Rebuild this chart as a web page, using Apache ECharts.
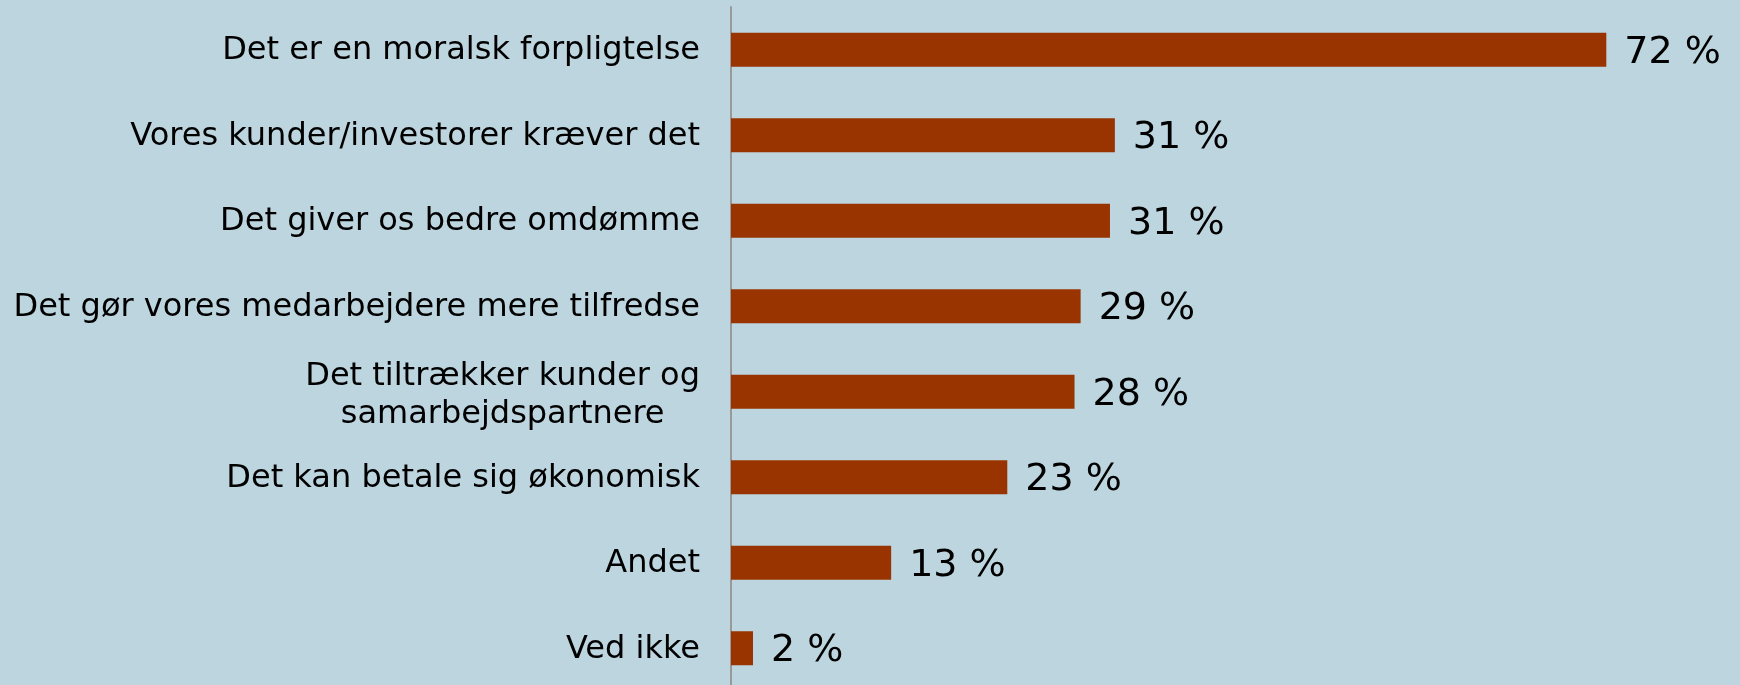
<!DOCTYPE html>
<html>
<head>
<meta charset="utf-8">
<script src="https://cdn.jsdelivr.net/npm/echarts@6/dist/echarts.min.js"></script>
<style>
    html, body { margin: 0; padding: 0; background: #bdd5df; overflow: hidden; }
    #chart { width: 1740px; height: 700px; }
</style>
</head>
<body>
<div id="chart"></div>
<script>
// Answers, top to bottom
const categories = [
    'Det er en moralsk forpligtelse',
    'Vores kunder/investorer kræver det',
    'Det giver os bedre omdømme',
    'Det gør vores medarbejdere mere tilfredse',
    'Det tiltrækker kunder og\nsamarbejdspartnere',
    'Det kan betale sig økonomisk',
    'Andet',
    'Ved ikke'
];
// Share of respondents (%)
const shares = [71.6, 31.4, 31.0, 28.6, 28.1, 22.6, 13.1, 1.8];

document.addEventListener('DOMContentLoaded', function() {
    // chart div is a bit taller than the window: the last band runs past the bottom edge
    const chart = echarts.init(document.getElementById('chart'));

    // two-line label sits a few px lower in the original
    const yData = categories.map(function(name) {
        if (name.indexOf('\n') < 0) return name;
        return { value: name, textStyle: { padding: [8, 0, 0, 0] } };
    });

    const options = {
        backgroundColor: '#bdd5df',
        animation: false,
        grid: {
            left: 731,
            top: 7,
            width: 978,
            height: 684
        },
        xAxis: {
            type: 'value',
            min: 0,
            max: 80,
            show: false
        },
        yAxis: {
            type: 'category',
            inverse: true,
            data: yData,
            axisLine: {
                show: true,
                lineStyle: { color: '#999999', width: 2 }
            },
            axisTick: { show: false },
            splitLine: { show: false },
            axisLabel: {
                margin: 31,
                color: '#000',
                fontFamily: 'DejaVu Sans',
                fontSize: 32,
                padding: [2, 0, 0, 0],
                formatter: function(value) {
                    if (value.indexOf('\n') < 0) return value;
                    return value.split('\n').map(function(line) {
                        return '{c|' + line + '}';
                    }).join('\n');
                },
                rich: {
                    c: {
                        align: 'center',
                        fontFamily: 'DejaVu Sans',
                        fontSize: 32,
                        lineHeight: 38,
                        color: '#000'
                    }
                }
            }
        },
        series: [
            {
                type: 'bar',
                data: shares,
                barWidth: 34,
                itemStyle: {
                    color: '#993300'
                },
                label: {
                    show: true,
                    position: 'right',
                    distance: 18,
                    offset: [0, 3],
                    color: '#000',
                    fontFamily: 'DejaVu Sans',
                    fontSize: 38,
                    formatter: function(p) {
                        return Math.round(p.value) + ' %';
                    }
                }
            }
        ]
    };

    chart.setOption(options);
});
</script>
</body>
</html>
